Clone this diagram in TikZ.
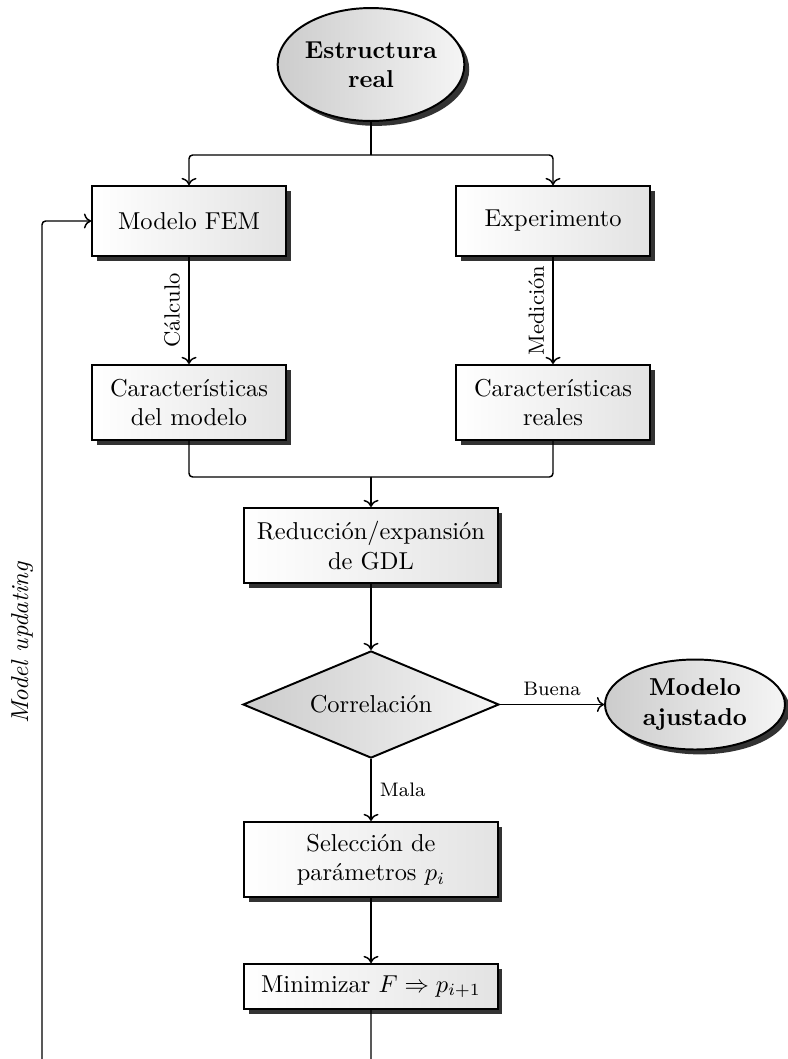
\documentclass[tikz,border=0pt]{standalone}
\usetikzlibrary{shapes.geometric,shadows,arrows.meta}
\begin{document}
\begin{tikzpicture}[x=0.409pt,y=-0.409pt,
  shad/.style={drop shadow={shadow xshift=2pt,shadow yshift=-2pt,fill=black!80,opacity=1}},
  box/.style={draw,thick,rectangle,left color=white,right color=gray!22,shad,
    align=center,minimum width=79.3pt,inner sep=2pt},
  widebox/.style={box,minimum width=103.5pt},
  roundnode/.style={draw,thick,ellipse,left color=gray!40,right color=gray!8,shad,
    align=center,inner sep=0pt,font=\bfseries},
  decision/.style={draw,thick,diamond,aspect=2.4,left color=gray!40,right color=gray!8,
    minimum width=104.7pt,minimum height=43.8pt,inner sep=0pt},
  conn/.style={semithick,->},
  line/.style={semithick}]
\useasboundingbox (0,0) rectangle (787,1059);

\node[roundnode,minimum width=75.3pt,minimum height=46.2pt] (real) at (371,64.5) {Estructura\\real};
\node[box,minimum height=28.6pt] (fem) at (189,221) {Modelo FEM};
\node[box,minimum height=28.6pt] (exp) at (553,221) {Experimento};
\node[box,minimum height=30.7pt] (cmod) at (189,402.5) {Características\\del modelo};
\node[box,minimum height=30.7pt] (creal) at (553,402.5) {Características\\reales};
\node[widebox,minimum height=30.7pt] (red) at (371,545.5) {Reducción/expansión\\de GDL};
\node[decision] (corr) at (371,704.5) {Correlación};
\node[roundnode,minimum width=73.6pt,minimum height=36.8pt] (ajus) at (695,704.5) {Modelo\\ajustado};
\node[widebox,minimum height=30.7pt] (sel) at (371,859.5) {Selección de\\parámetros $p_i$};
\node[widebox,minimum height=18.4pt] (min) at (371,986.5) {Minimizar $F \Rightarrow p_{i+1}$};

\coordinate (split) at (371,155);
\coordinate (merge) at (371,477);
\coordinate (b) at (371,1065);
\coordinate (bl) at (42,1065);

\draw[line] (real.south) -- (split);
\draw[conn,rounded corners=1.5pt] (split) -| (fem.north);
\draw[conn,rounded corners=1.5pt] (split) -| (exp.north);
\draw[conn] (fem.south) -- node[midway,rotate=90,anchor=south,font=\small] {Cálculo} (cmod.north);
\draw[conn] (exp.south) -- node[midway,rotate=90,anchor=south,font=\small] {Medición} (creal.north);
\draw[line,rounded corners=1.5pt] (cmod.south) |- (merge);
\draw[line,rounded corners=1.5pt] (creal.south) |- (merge);
\draw[conn] (merge) -- (red.north);
\draw[conn] (red.south) -- (corr.north);
\draw[conn] (corr.east) -- node[above,font=\footnotesize] {Buena} (ajus.west);
\draw[conn] (corr.south) -- node[right,font=\footnotesize] {Mala} (sel.north);
\draw[conn] (sel.south) -- (min.north);
\draw[conn,rounded corners=1.5pt] (min.south) -- (b) -- (bl)
  -- node[midway,rotate=90,anchor=south,font=\itshape] {Model updating} (bl |- fem.west)
  -- (fem.west);
\end{tikzpicture}
\end{document}
